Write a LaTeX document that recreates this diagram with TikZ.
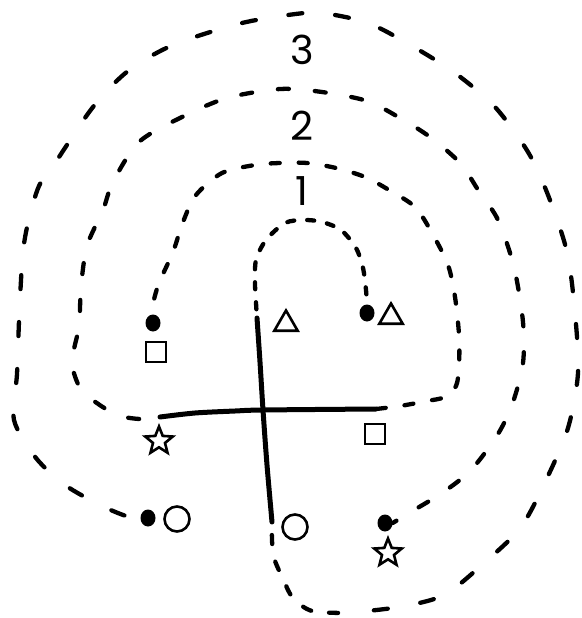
\documentclass[tikz,border=0pt]{standalone}
\usepackage{fontspec}
\setmainfont{Poppins}
\usetikzlibrary{shapes.geometric}
\begin{document}
\begin{tikzpicture}[x=1pt,y=-1pt,
  dotn/.style={ellipse,fill=black,inner sep=0pt,minimum width=15pt,minimum height=17pt},
  trin/.style={regular polygon,regular polygon sides=3,draw,line width=2.6pt,inner sep=0pt,minimum size=27pt},
  sqn/.style={rectangle,draw,line width=2.6pt,inner sep=0pt,minimum size=20pt},
  starn/.style={star,star points=5,star point ratio=2.3,draw,line width=2.6pt,inner sep=0pt,minimum size=29pt},
  circn/.style={circle,draw,line width=2.6pt,inner sep=0pt,minimum size=25pt},
  solidl/.style={line width=5pt,line cap=round,line join=round},
  dsh/.style={line width=4.3pt,line cap=round},
  lbl/.style={font=\fontsize{40}{40}\selectfont,inner sep=0pt}
]
\useasboundingbox (0,0) rectangle (581,618);

% labels
\node[lbl] (l3) at (302,50) {3};
\node[lbl] (l2) at (302,126) {2};
\node[lbl] (l1) at (302,191) {1};

% dots and symbols
\node[dotn] (d1) at (367,313) {};
\node[dotn] (d2) at (153,323) {};
\node[dotn] (d3) at (148,518) {};
\node[dotn] (d4) at (385,523) {};
\node[trin] (t1) at (286,324) {};
\node[trin] (t2) at (391,317) {};
\node[sqn] (s1) at (156,352) {};
\node[sqn] (s2) at (375,434) {};
\node[starn] (st1) at (159,441) {};
\node[starn] (st2) at (388,553) {};
\node[circn] (c1) at (177,519) {};
\node[circn] (c2) at (295,527) {};

% ends of the solid lines
\coordinate (vt) at (257,318);
\coordinate (vc) at (263,410);
\coordinate (vb) at (272,522);
\coordinate (hl) at (160,417);
\coordinate (hr) at (376,409);
\coordinate (bt) at (347,613);

% solid cross
\draw[solidl] plot[smooth] coordinates {(vt) (260,362) (vc) (267,465) (vb)};
\draw[solidl] plot[smooth] coordinates {(hr) (vc) (235,411) (195,413) (hl)};

% inner path from d1 to the vertical line
\draw[dsh,dash pattern=on 7pt off 13pt,dash phase=10pt] plot[smooth] coordinates
  {(d1.north) (366,290) (363,268) (356,248) (341,230) (322,222) (304,220) (285,223) (266,240) (256,260) (255,283) (256,303) (vt)};

% ring 1 from d2 to the horizontal line
\draw[dsh,dash pattern=on 9pt off 19pt,dash phase=12pt] plot[smooth] coordinates
  {(d2.north) (153,304) (159,283) (173,252) (183,222) (196,195) (222,173) (255,165) (280,163) (307,163) (336,168) (365,177) (389,190) (415,207) (432,233) (448,265) (455,297) (459,335) (459,367) (456,386) (445,397) (427,401) (400,406) (hr)};

% ring 2 from the horizontal line to d4
\draw[dsh,dash pattern=on 11pt off 26pt,dash phase=16pt] plot[smooth] coordinates
  {(hl) (140,419) (117,415) (94,401) (80,388) (72,362) (79,326) (81,287) (87,246) (103,210) (113,182) (139,142) (182,117) (227,98) (280,89) (322,92) (367,101) (400,118) (430,137) (460,163) (480,193) (498,220) (514,267) (523,322) (523,363) (513,402) (498,434) (471,470) (442,493) (409,513) (d4.east)};

% outer path from the vertical line to d3
\draw[dsh,dash pattern=on 9pt off 18pt,dash phase=14pt] plot[smooth] coordinates
  {(vb) (272,540) (274,558) (283,579) (293,598) (312,611) (bt)};
\draw[dsh,dash pattern=on 14pt off 33pt,dash phase=20pt] plot[smooth] coordinates
  {(bt) (399,607) (444,595) (484,563) (521,527) (547,478) (568,428) (578,373) (575,313) (567,252) (548,195) (528,152) (495,107) (455,73) (412,46) (368,23) (321,13) (288,15) (238,24) (173,45) (128,71) (93,107) (57,160) (39,186) (28,223) (23,251) (21,280) (19,321) (17,374) (14,420) (36,458) (65,485) (100,505) (126,516) (d3.west)};
\end{tikzpicture}
\end{document}
